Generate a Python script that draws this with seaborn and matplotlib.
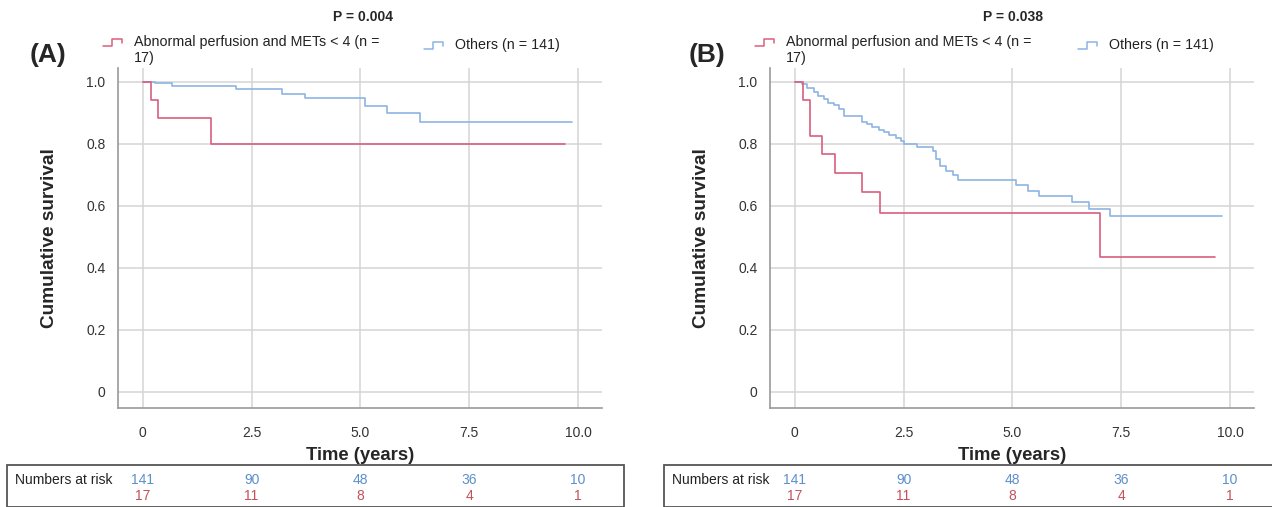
import numpy as np
import pandas as pd
import matplotlib
matplotlib.use("Agg")
import matplotlib.pyplot as plt
import seaborn as sns
from matplotlib.patches import Rectangle
from matplotlib.transforms import blended_transform_factory

sns.set_style("white")
plt.rcParams['font.family'] = ['Liberation Sans', 'DejaVu Sans']

RED = "#d95f7e"
BLUE = "#8db4e4"
RISK_RED = "#c4505a"
RISK_BLUE = "#5c8fcc"

# panel A: step times (years) and survival after each step
a_red_t = [0, 0.18, 0.34, 1.56, 9.69]
a_red_s = [1.0, 0.943, 0.884, 0.80, 0.80]
a_blue_t = [0, 0.28, 0.68, 2.14, 3.19, 3.72, 5.11, 5.61, 6.36, 9.86]
a_blue_s = [1.0, 0.996, 0.987, 0.977, 0.961, 0.947, 0.921, 0.90, 0.871, 0.871]

# panel B
b_red_t = [0, 0.19, 0.35, 0.62, 0.92, 1.55, 1.95, 7.02, 9.65]
b_red_s = [1.0, 0.942, 0.826, 0.766, 0.707, 0.645, 0.578, 0.434, 0.434]
b_blue_t = [0, 0.155, 0.27, 0.43, 0.54, 0.66, 0.77, 0.89, 1.01, 1.12, 1.55, 1.66,
            1.78, 1.93, 2.05, 2.16, 2.32, 2.43, 2.51, 2.81, 3.17, 3.25, 3.33, 3.48,
            3.64, 3.76, 5.09, 5.35, 5.60, 6.36, 6.75, 7.24, 9.82]
b_blue_s = [1.0, 0.993, 0.982, 0.966, 0.955, 0.944, 0.933, 0.925, 0.914, 0.89, 0.871, 0.864,
            0.856, 0.845, 0.837, 0.828, 0.818, 0.809, 0.80, 0.79, 0.777, 0.75, 0.729, 0.713,
            0.699, 0.683, 0.666, 0.649, 0.633, 0.614, 0.59, 0.567, 0.567]

risk_times = [0, 2.5, 5.0, 7.5, 10.0]
risk_others = [141, 90, 48, 36, 10]
risk_abnormal = [17, 11, 8, 4, 1]

x_ticks = [0, 2.5, 5.0, 7.5, 10.0]
x_ticklabels = ["0", "2.5", "5.0", "7.5", "10.0"]
y_ticks = [0, 0.2, 0.4, 0.6, 0.8, 1.0]
y_ticklabels = ["0", "0.2", "0.4", "0.6", "0.8", "1.0"]

red_label = "Abnormal perfusion and METs < 4 (n =\n17)"
blue_label = "Others (n = 141)"

# pixel layout per panel
panels = [
    dict(tag="(A)", p="P = 0.004", red=(a_red_t, a_red_s), blue=(a_blue_t, a_blue_s),
         left=118, box=(7, 624), tag_x=48, p_x=363, red_icon=103, blue_icon=424),
    dict(tag="(B)", p="P = 0.038", red=(b_red_t, b_red_s), blue=(b_blue_t, b_blue_s),
         left=770, box=(664, 1285), tag_x=707, p_x=1013, red_icon=755, blue_icon=1078),
]

W, H = 1272, 507
fig = plt.figure(figsize=(W / 100, H / 100), dpi=100)

ax_w = 484
ax_bot, ax_top = 408, 68

for pn in panels:
    ax = fig.add_axes([pn["left"] / W, 1 - ax_bot / H, ax_w / W, (ax_bot - ax_top) / H])

    for (t, s), col in [(pn["blue"], BLUE), (pn["red"], RED)]:
        df = pd.DataFrame({"time": t, "surv": s})
        sns.lineplot(data=df, x="time", y="surv", ax=ax, color=col, lw=1.2,
                     drawstyle="steps-post", estimator=None, sort=False, zorder=3)

    ax.set_xlim(-0.57, 10.55)
    ax.set_ylim(-0.052, 1.045)
    ax.set_xticks(x_ticks)
    ax.set_xticklabels(x_ticklabels)
    ax.set_yticks(y_ticks)
    ax.set_yticklabels(y_ticklabels)
    ax.grid(True, color="#d4d4d4", lw=1.1)
    ax.set_axisbelow(True)
    for sp in ["top", "right"]:
        ax.spines[sp].set_visible(False)
    for sp in ["left", "bottom"]:
        ax.spines[sp].set_color("#9a9a9a")
        ax.spines[sp].set_linewidth(1.2)
    ax.tick_params(axis="both", length=0, labelsize=10, colors="#333333")
    ax.tick_params(axis="x", pad=13)
    ax.tick_params(axis="y", pad=9)
    ax.set_xlabel("Time (years)", fontsize=13.3, fontweight="bold", labelpad=5)
    ax.set_ylabel("Cumulative survival", fontsize=13.7, fontweight="bold", labelpad=20)

    def fx(px):
        return (px - pn["left"]) / ax_w

    def fy(py):
        return (ax_bot - py) / (ax_bot - ax_top)

    ax.text(fx(pn["p_x"]), fy(17), pn["p"], transform=ax.transAxes, ha="center",
            va="center", fontsize=10, fontweight="bold")
    ax.text(fx(pn["tag_x"]), fy(55), pn["tag"], transform=ax.transAxes,
            ha="center", va="center", fontsize=19, fontweight="bold")

    # legend icons (small step glyphs) and labels
    for x0, col, lab, ty in [(pn["red_icon"], RED, red_label, 35),
                             (pn["blue_icon"], BLUE, blue_label, 38)]:
        xs = [fx(x0), fx(x0 + 9), fx(x0 + 9), fx(x0 + 19), fx(x0 + 19)]
        yl, yh = fy(ty + 11), fy(ty + 4)
        ax.plot(xs, [yl, yl, yh, yh, fy(ty + 8)], color=col, lw=1.1,
                transform=ax.transAxes, clip_on=False)
        ax.text(fx(x0 + 31), fy(ty), lab, transform=ax.transAxes, ha="left", va="top",
                fontsize=10.3, color="#222222", linespacing=1.15)

    # numbers at risk box
    bx0, bx1 = pn["box"]
    fig.patches.append(Rectangle((bx0 / W, 1 - 507 / H), (bx1 - bx0) / W, (507 - 465) / H,
                                 transform=fig.transFigure, fill=False,
                                 edgecolor="#555555", lw=1.3))
    fig.text((bx0 + 8) / W, 1 - 480 / H, "Numbers at risk", ha="left", va="center",
             fontsize=10, color="#222222")
    trans = blended_transform_factory(ax.transData, fig.transFigure)
    for t, n1, n2 in zip(risk_times, risk_others, risk_abnormal):
        ax.text(t, 1 - 480 / H, str(n1), transform=trans, ha="center", va="center",
                fontsize=10, color=RISK_BLUE, clip_on=False)
        ax.text(t, 1 - 496 / H, str(n2), transform=trans, ha="center", va="center",
                fontsize=10, color=RISK_RED, clip_on=False)

fig.savefig("out.png", dpi=100)
